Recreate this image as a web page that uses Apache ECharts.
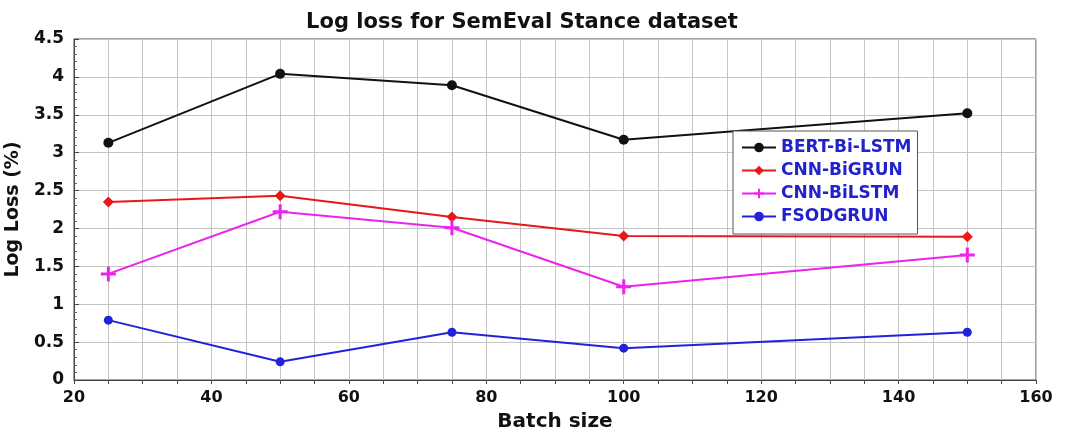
<!DOCTYPE html>
<html>
<head>
<meta charset="utf-8">
<script src="https://cdn.jsdelivr.net/npm/echarts@6/dist/echarts.min.js"></script>
<style>
  html, body { margin: 0; padding: 0; background: #fff; }
  #chart { width: 1067px; height: 435px; }
</style>
</head>
<body>
<div id="chart"></div>
<script>
// data
const batchSizes = [25, 50, 75, 100, 150]
const seriesNames = ['BERT-Bi-LSTM', 'CNN-BiGRUN', 'CNN-BiLSTM', 'FSODGRUN']
const bertBiLstm = [3.13, 4.04, 3.89, 3.17, 3.52]
const cnnBiGrun = [2.35, 2.43, 2.15, 1.90, 1.89]
const cnnBiLstm = [1.40, 2.22, 2.01, 1.23, 1.65]
const fsodGrun = [0.79, 0.24, 0.63, 0.42, 0.63]

const colors = ['#111111', '#e81818', '#ee22ee', '#2222dd']
const plusPath = 'path://M4,0 L6,0 L6,4 L10,4 L10,6 L6,6 L6,10 L4,10 L4,6 L0,6 L0,4 L4,4 Z'
const symbols = ['circle', 'diamond', plusPath, 'circle']
const symbolSizes = [10, 11, 15, 9]

const font = 'DejaVu Sans'

function pairs(vals) {
  return batchSizes.map((x, i) => [x, vals[i]])
}

const chart = echarts.init(document.getElementById('chart'))
const allValues = [bertBiLstm, cnnBiGrun, cnnBiLstm, fsodGrun]

chart.setOption({
  animation: false,
  textStyle: { fontFamily: font },
  title: {
    text: 'Log loss for SemEval Stance dataset',
    left: 517, top: 7, textAlign: 'center',
    textStyle: { fontFamily: font, fontWeight: 'bold', fontSize: 21, color: '#111' }
  },
  legend: {
    data: seriesNames,
    orient: 'vertical',
    left: 733, top: 131,
    itemWidth: 34, itemHeight: 12, itemGap: 6,
    padding: [8, 6, 9, 8],
    backgroundColor: '#fff',
    borderColor: '#555', borderWidth: 1,
    textStyle: { color: '#2222cc', fontWeight: 'bold', fontSize: 17, fontFamily: font }
  },
  grid: {
    left: 74, right: 31, top: 39, bottom: 55,
    outerBoundsMode: 'none',
    show: true, borderColor: '#444', borderWidth: 1
  },
  xAxis: {
    type: 'value', min: 20, max: 160, interval: 20,
    name: 'Batch size', nameLocation: 'middle', nameGap: 32,
    nameTextStyle: { fontFamily: font, fontWeight: 'bold', fontSize: 20, color: '#111' },
    axisLine: { lineStyle: { color: '#444' } },
    axisTick: { inside: false, length: 4, lineStyle: { color: '#444' } },
    minorTick: { show: true, splitNumber: 4, length: 4, lineStyle: { color: '#444' } },
    axisLabel: { fontFamily: font, fontWeight: 'bold', fontSize: 16, color: '#111', margin: 10 },
    splitLine: { show: true, lineStyle: { color: '#c4c4c4' } },
    minorSplitLine: { show: true, lineStyle: { color: '#c4c4c4' } }
  },
  yAxis: {
    type: 'value', min: 0, max: 4.5, interval: 0.5,
    name: 'Log Loss (%)', nameLocation: 'middle', nameGap: 47,
    nameTextStyle: { fontFamily: font, fontWeight: 'bold', fontSize: 19, color: '#111' },
    axisLine: { show: true, lineStyle: { color: '#444' } },
    axisTick: { inside: true, length: 5, lineStyle: { color: '#444' } },
    minorTick: { show: true, splitNumber: 5, length: 3, lineStyle: { color: '#666' } },
    axisLabel: { fontFamily: font, fontWeight: 'bold', fontSize: 17, color: '#111', margin: 10 },
    splitLine: { show: true, lineStyle: { color: '#c4c4c4' } }
  },
  series: seriesNames.map((name, i) => ({
    name,
    type: 'line',
    data: pairs(allValues[i]),
    symbol: symbols[i],
    symbolSize: symbolSizes[i],
    showAllSymbol: true,
    lineStyle: { color: colors[i], width: 2 },
    itemStyle: { color: colors[i], borderWidth: 0 }
  }))
})
</script>
</body>
</html>
